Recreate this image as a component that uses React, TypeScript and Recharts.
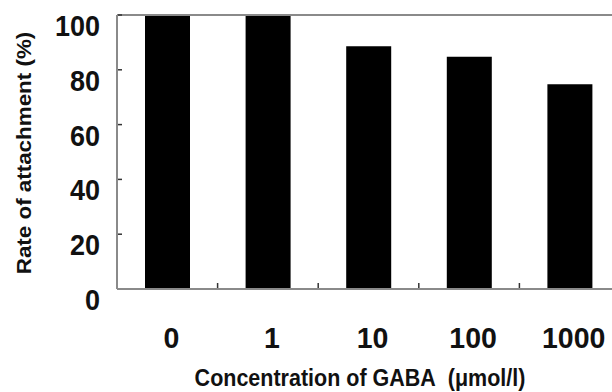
import React from 'react';
import { BarChart, Bar, XAxis, YAxis, ReferenceLine } from 'recharts';

const categories = ['0', '1', '10', '100', '1000'];
const attachment = [100, 100, 88.6, 84.8, 74.7];
const yTicks = [0, 20, 40, 60, 80, 100];

const data = categories.map((c, i) => ({ conc: c, rate: attachment[i] }));

const FONT = '"Liberation Sans", Arial, Helvetica, sans-serif';
const AXIS_GRAY = '#8a8a8a';
const TICK_DARK = '#333';

const CHART_W = 640;
const MARGIN = { top: 15, right: 20, left: 0, bottom: 0 };
const Y_AXIS_W = 117;
const BAND = (CHART_W - MARGIN.right - MARGIN.left - Y_AXIS_W) / categories.length;

const XTick = (props: any) => {
  const { x, y, payload, index } = props;
  const showBoundary = index < categories.length - 1;
  return (
    <g>
      {showBoundary && (
        <line
          x1={x + BAND / 2}
          x2={x + BAND / 2}
          y1={y - 6}
          y2={y - 1}
          stroke={TICK_DARK}
          strokeWidth={1.5}
        />
      )}
      <text
        transform={`translate(${x + 4},${y + 59}) scale(1,1.02)`}
        textAnchor="middle"
        fontFamily={FONT}
        fontWeight="bold"
        fontSize={28.5}
        fill="#111"
      >
        {payload.value}
      </text>
    </g>
  );
};

const YTick = (props: any) => {
  const { y, payload } = props;
  return (
    <g>
      {payload.value !== 0 && (
        <line x1={118} x2={122} y1={y} y2={y} stroke={TICK_DARK} strokeWidth={1.5} />
      )}
      <text
        transform={`translate(100,${y + 21}) scale(1,1.06)`}
        textAnchor="end"
        fontFamily={FONT}
        fontWeight="bold"
        fontSize={27}
        fill="#111"
      >
        {payload.value}
      </text>
    </g>
  );
};

export default function App() {
  return (
    <div style={{ position: 'absolute', left: 0, top: 0, width: 612, height: 392, overflow: 'hidden', background: '#fff' }}>
      <BarChart width={CHART_W} height={392} data={data} margin={MARGIN}>
        <XAxis
          dataKey="conc"
          type="category"
          height={103}
          tickLine={false}
          tickSize={0}
          tickMargin={0}
          axisLine={{ stroke: AXIS_GRAY, strokeWidth: 2 }}
          tick={<XTick />}
          interval={0}
          label={{
            content: () => (
              <text
                transform="translate(360,386) scale(1,1.1)"
                textAnchor="middle"
                fontFamily={FONT}
                fontWeight="bold"
                fontSize={21.5}
                fill="#111"
              >
                Concentration of GABA&#160;&#160;(μmol/l)
              </text>
            ),
          }}
        />
        <YAxis
          width={Y_AXIS_W}
          domain={[0, 100]}
          ticks={yTicks}
          interval={0}
          tickLine={false}
          axisLine={{ stroke: AXIS_GRAY, strokeWidth: 2 }}
          tick={<YTick />}
          label={{
            content: () => (
              <text
                transform="translate(31,153) rotate(-90) scale(1.12,1)"
                textAnchor="middle"
                fontFamily={FONT}
                fontWeight="bold"
                fontSize={20}
                fill="#111"
              >
                Rate of  attachment (%)
              </text>
            ),
          }}
        />
        <Bar dataKey="rate" fill="#000" barSize={45} isAnimationActive={false} />
        <ReferenceLine y={100} stroke={AXIS_GRAY} strokeWidth={2} />
      </BarChart>
    </div>
  );
}
